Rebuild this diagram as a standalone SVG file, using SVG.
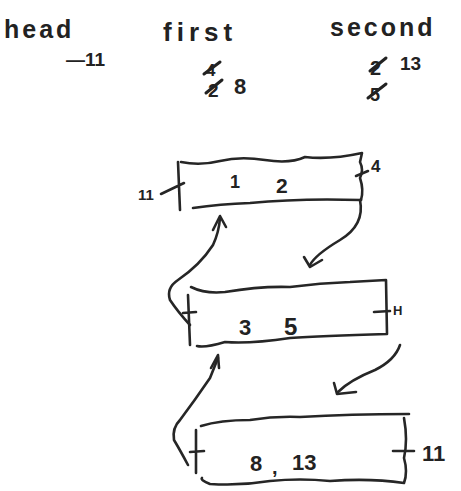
<svg xmlns="http://www.w3.org/2000/svg" width="461" height="491" viewBox="0 0 461 491">
<defs>
<style>
.ln{fill:none;stroke:#262626;stroke-width:2.6;stroke-linecap:round;stroke-linejoin:round}
.tx{font-family:"Liberation Sans",Arial,sans-serif;font-weight:bold;fill:#222}
.st{stroke:#222;stroke-width:3;stroke-linecap:round}
</style>
</defs>
<rect width="461" height="491" fill="#fff"/>
<g id="labels">
<text class="tx" x="4" y="38" font-size="25" letter-spacing="3">head</text>
<text class="tx" x="66" y="66" font-size="19">—11</text>
<text class="tx" x="163" y="41" font-size="26" letter-spacing="5">first</text>
<text class="tx" x="206" y="76" font-size="17">4</text>
<line class="st" x1="204" y1="74" x2="220" y2="62"/>
<text class="tx" x="208" y="97" font-size="19">2</text>
<line class="st" x1="206" y1="93" x2="222" y2="80"/>
<text class="tx" x="234" y="94" font-size="22">8</text>
<text class="tx" x="330" y="36" font-size="25" letter-spacing="3">second</text>
<text class="tx" x="370" y="75" font-size="20">2</text>
<line class="st" x1="370" y1="71" x2="386" y2="58"/>
<text class="tx" x="400" y="70" font-size="19">13</text>
<text class="tx" x="370" y="101" font-size="18">5</text>
<line class="st" x1="368" y1="98" x2="386" y2="84"/>
</g>
<g id="node1">
<path class="ln" d="M181 162 Q200 166 220 161 T265 160 T305 157 Q330 160 362 153 L360 162 Q364 170 360 178 Q364 190 361 200"/>
<path class="ln" d="M193 208 Q220 204 250 203 Q300 198 361 200"/>
<path class="ln" d="M178 162 L180 210 M161 194 L184 183"/>
<path class="ln" d="M356 176 L368 171"/>
<text class="tx" x="138" y="200" font-size="15">11</text>
<text class="tx" x="371" y="172" font-size="17">4</text>
<text class="tx" x="230" y="188" font-size="18">1</text>
<text class="tx" x="276" y="193" font-size="21">2</text>
</g>
<g id="node2">
<path class="ln" d="M191 287 Q205 294 225 292 Q260 286 290 287 Q320 283 350 282 L386 280 L387 334 Q320 336 290 338 Q250 344 225 342 Q205 348 197 346"/>
<path class="ln" d="M188 295 L190 345 M183 313 L196 312"/>
<path class="ln" d="M374 312 L390 311"/>
<text class="tx" x="393" y="315" font-size="13">H</text>
<text class="tx" x="239" y="335" font-size="22">3</text>
<text class="tx" x="284" y="335" font-size="24">5</text>
</g>
<g id="node3">
<path class="ln" d="M201 426 Q220 420 250 420 Q275 416 300 417 Q350 414 409 414"/>
<path class="ln" d="M404 418 Q408 440 404 458 Q408 472 404 483 Q370 478 330 481 Q300 478 270 481 Q240 486 210 484 Q200 480 202 478"/>
<path class="ln" d="M196 430 L196 473 M190 452 L204 451 M393 451 L414 451"/>
<text class="tx" x="250" y="471" font-size="22">8</text>
<text class="tx" x="272" y="474" font-size="20">,</text>
<text class="tx" x="292" y="470" font-size="22">13</text>
<text class="tx" x="422" y="461" font-size="22">11</text>
</g>
<g id="connectors">
<path class="ln" d="M360 200 Q365 225 340 240 Q315 255 310 265"/>
<path class="ln" d="M304 257 L310 267 L322 260"/>
<path class="ln" d="M190 325 Q178 312 170 300 Q166 288 178 280 Q200 265 213 245 Q219 232 220 218"/>
<path class="ln" d="M213 230 L220 216 L226 227"/>
<path class="ln" d="M400 345 Q395 360 375 370 Q350 380 338 392"/>
<path class="ln" d="M334 383 L337 394 L356 392"/>
<path class="ln" d="M188 465 Q180 450 174 440 Q172 428 180 420 Q195 400 210 378 L218 358"/>
<path class="ln" d="M211 368 L218 355 L219 368"/>
</g>
</svg>
